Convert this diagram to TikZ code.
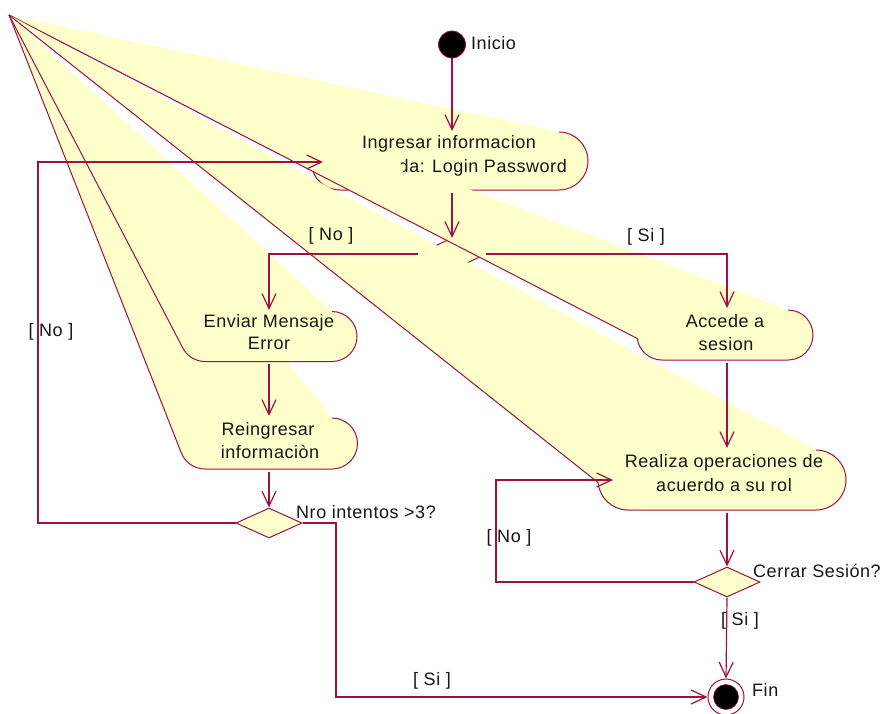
\documentclass[tikz,border=0pt]{standalone}
\usepackage{fontspec}
\setmainfont{Liberation Sans}[LetterSpace=3]
\usetikzlibrary{arrows.meta,shapes.geometric}
\definecolor{lc}{RGB}{160,16,64}
\definecolor{fy}{RGB}{255,255,204}
\definecolor{tx}{RGB}{22,22,22}
% #1 left arc centre x, #2 right arc centre x, #3 centre y, #4 radius, #5 angle where the stray edge meets the left arc
\newcommand\actshape[5]{%
  \fill[fy] (apex) -- (#2,#3+#4) arc[start angle=90,end angle=-90,radius=#4]
     -- (#1,#3-#4) arc[start angle=270,end angle=#5,radius=#4] -- cycle;
  \draw[shapeline] (apex) -- ([shift={(#5:#4)}]#1,#3) arc[start angle=#5,end angle=270,radius=#4]
     -- (#2,#3-#4) arc[start angle=-90,end angle=90,radius=#4];}
\begin{document}
\begin{tikzpicture}[x=1pt,y=1pt,
  shapeline/.style={draw=lc,line width=1pt,line join=round},
  conn/.style={draw=lc,line width=1.2pt,-{Straight Barb[length=15pt,width=14pt]}},
  txt/.style={text=tx,font=\fontsize{18}{22}\selectfont,inner sep=0pt,anchor=base},
  txtw/.style={txt,anchor=base west},
  dec/.style={diamond,draw=lc,fill=fy,line width=1pt,minimum width=66pt,minimum height=30pt,inner sep=0pt}]
\useasboundingbox (0,0) rectangle (885,-713);
\fill[white] (0,0) rectangle (885,-713);
\coordinate (apex) at (9,-15);
% activity shapes (broken outlines fanning out of the corner)
\actshape{205}{332}{-443.5}{25.5}{200}% Reingresar
\actshape{205}{332}{-336.5}{25}{205}% Enviar
\actshape{340}{559}{-161}{29}{200}% Ingresar
% first decision
\coordinate (dT) at (452,-238);
\coordinate (dR) at (486,-254);
\coordinate (dB) at (452,-270);
\coordinate (dL) at (418,-254);
\filldraw[fill=fy,draw=lc,line width=1pt] (dT) -- (dR) -- (dB) -- (dL) -- cycle;
\actshape{662}{788}{-335}{25}{188}% Accede
\actshape{628}{816}{-480}{30}{185}% Realiza
% texts of activities
\node[txt] (ing1) at (449,-148) {Ingresar informacion};
\begin{scope}
  \clip (397,-150) -- (640,-150) -- (640,-185) -- (406,-185) -- cycle;
  \node[txt,anchor=base east] (ing2) at (567,-172) {valida: Login Password};
\end{scope}
\node[txt] (env1) at (269,-327) {Enviar Mensaje};
\node[txt] (env2) at (269,-349) {Error};
\node[txt] (rei1) at (268,-435) {Reingresar};
\node[txt] (rei2) at (270,-458) {informaciòn};
\node[txt] (acc1) at (725,-327) {Accede a};
\node[txt] (acc2) at (726,-350) {sesion};
\node[txt] (rea1) at (724,-467) {Realiza operaciones de};
\node[txt] (rea2) at (724,-491) {acuerdo a su rol};
% start, end, decisions
\node[circle,fill=black,draw=lc,line width=0.8pt,minimum size=27pt,inner sep=0pt] (ini) at (452,-44.5) {};
\node[circle,draw=lc,fill=white,line width=1pt,minimum size=36pt,inner sep=0pt] (fin) at (726,-697) {};
\node[circle,fill=black,draw=lc,line width=0.6pt,minimum size=25pt,inner sep=0pt] (finin) at (fin) {};
\node[dec] (nro) at (269,-523) {};
\node[dec] (cer) at (727,-582) {};
% connector end points
\coordinate (ingTop) at (452,-131);
\coordinate (ingBot) at (452,-193);
\coordinate (ingLeft) at (323,-162);
\coordinate (envTop) at (269,-310);
\coordinate (envBot) at (269,-364);
\coordinate (reiTop) at (269,-416);
\coordinate (reiBot) at (269,-472);
\coordinate (accTop) at (727,-308);
\coordinate (accBot) at (727,-363);
\coordinate (reaTop) at (727,-448);
\coordinate (reaBot) at (727,-513);
\coordinate (reaLeft) at (613,-480);
\coordinate (lpA) at (38,-523);
\coordinate (lpB) at (336,-523);
\coordinate (lpC) at (496,-582);
% connectors
\draw[conn] (ini.south) -- (ingTop);
\draw[conn] (ingBot) -- (dT);
\draw[conn] (dL) -| (envTop);
\draw[conn] (dR) -| (accTop);
\draw[conn] (envBot) -- (reiTop);
\draw[conn] (reiBot) -- (nro.north);
\draw[conn] (nro.west) -- (lpA) |- (ingLeft);
\draw[conn] (nro.east) -- (lpB) |- (fin.west);
\draw[conn] (accBot) -- (reaTop);
\draw[conn] (reaBot) -- (cer.north);
\draw[conn] (cer.west) -- (lpC) |- (reaLeft);
\draw[conn] (cer.south) -- (fin.north);
% labels
\node[txtw] (lini) at (471,-49) {Inicio};
\node[txtw] (lfin) at (752,-696) {Fin};
\node[txtw] (lnro) at (296,-518) {Nro intentos >3?};
\node[txtw] (lcer) at (753,-577) {Cerrar Sesión?};
\node[txt] (g1) at (331,-240) {[ No ]};
\node[txt] (g2) at (646,-241) {[ Si ]};
\node[txt] (g3) at (51,-336) {[ No ]};
\node[txt] (g4) at (509,-542) {[ No ]};
\node[txt] (g5) at (740,-625) {[ Si ]};
\node[txt] (g6) at (432,-685) {[ Si ]};
\end{tikzpicture}
\end{document}
